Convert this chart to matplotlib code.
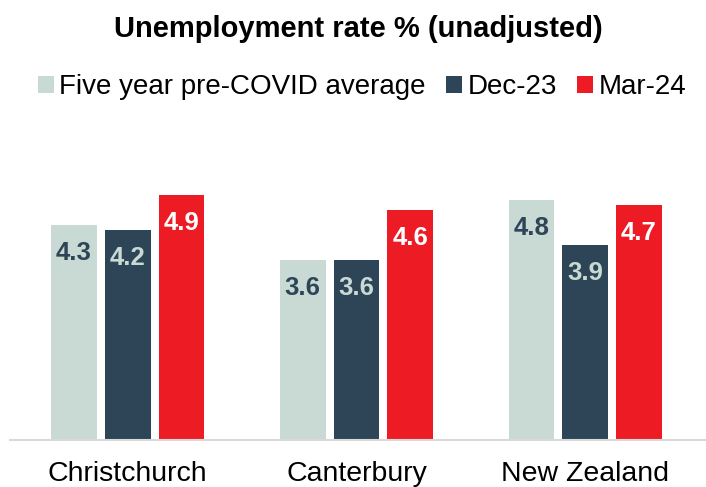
import matplotlib.pyplot as plt
import numpy as np

plt.rcParams['font.family'] = ['Liberation Sans', 'DejaVu Sans']

regions = ['Christchurch', 'Canterbury', 'New Zealand']
series = ['Five year pre-COVID average', 'Dec-23', 'Mar-24']
pre_covid = [4.3, 3.6, 4.8]
dec_23 = [4.2, 3.6, 3.9]
mar_24 = [4.9, 4.6, 4.7]

colors = ['#c9dad4', '#2d4557', '#ed1c24']
label_colors = ['#2d4557', '#c9dad4', '#ffffff']

fig = plt.figure(figsize=(7.06, 4.87), dpi=100)
ax = fig.add_axes([10 / 706, 47 / 487, 696 / 706, 290 / 487])

x = np.arange(len(regions))
width = 0.2
offsets = [-0.235, 0, 0.235]

for vals, off, col, lcol, name in zip([pre_covid, dec_23, mar_24], offsets,
                                      colors, label_colors, series):
    bars = ax.bar(x + off, vals, width, color=col, label=name)
    for b, v in zip(bars, vals):
        ax.annotate(f'{v:.1f}', (b.get_x() + b.get_width() / 2, v),
                    xytext=(0, -20), textcoords='offset points',
                    ha='center', va='center', fontsize=18.5,
                    fontweight='bold', color=lcol)

ax.set_xlim(-0.515, 2.528)
ax.set_ylim(0, 5.8)
ax.set_xticks(x)
ax.set_xticklabels(regions, fontsize=20.5)
ax.tick_params(axis='x', length=0, pad=15)
ax.set_yticks([])
for s in ['top', 'left', 'right']:
    ax.spines[s].set_visible(False)
ax.spines['bottom'].set_color('#d9d9d9')
ax.spines['bottom'].set_linewidth(1.5)

fig.text(0.507, 1 - 29 / 487, 'Unemployment rate % (unadjusted)',
         ha='center', va='center', fontsize=21, fontweight='bold')

fig.legend(loc='center', bbox_to_anchor=(0.513, 1 - 87 / 487), ncol=3,
           frameon=False, fontsize=20, handlelength=0.55, handleheight=0.55,
           handletextpad=0.2, columnspacing=0.75, borderpad=0)

fig.savefig('out.png', dpi=100)
